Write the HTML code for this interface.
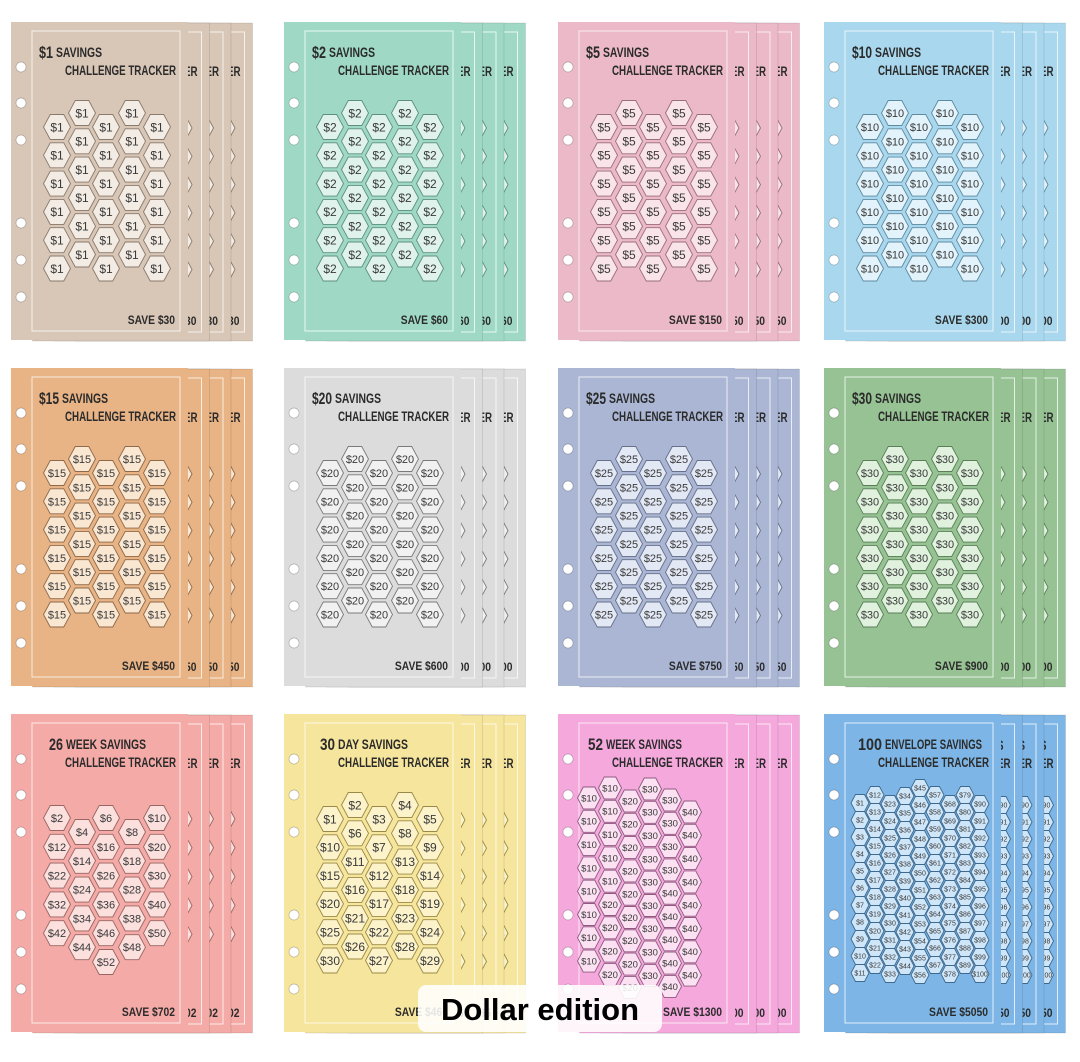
<!DOCTYPE html>
<html><head><meta charset="utf-8"><style>
html,body{margin:0;padding:0;background:#fff;width:1080px;height:1062px;overflow:hidden}
svg{display:block}
</style></head><body>
<svg id="s" width="1080" height="1062" xmlns="http://www.w3.org/2000/svg"></svg>
<script>
const COLX=[11,284,558,824], ROWY=[22,368,714], W=177, H=318, STEP=21.5;
const cards=[
 {bg:'#d8c6b6',hx:'#f3ece4',st:'#8a7a6c',big:'$1',bw:14,rest:'SAVINGS',rw:46,save:'SAVE $30',lay:'std',v:'$1'},
 {bg:'#9fd9c6',hx:'#dff3ec',st:'#5f8f80',big:'$2',bw:14,rest:'SAVINGS',rw:46,save:'SAVE $60',lay:'std',v:'$2'},
 {bg:'#ebb9c8',hx:'#f9e4ea',st:'#9a6f7c',big:'$5',bw:14,rest:'SAVINGS',rw:46,save:'SAVE $150',lay:'std',v:'$5'},
 {bg:'#a9d8ee',hx:'#e2f3fb',st:'#5f8aa0',big:'$10',bw:20,rest:'SAVINGS',rw:46,save:'SAVE $300',lay:'std',v:'$10'},
 {bg:'#e8b385',hx:'#fae7d2',st:'#8f6a4a',big:'$15',bw:20,rest:'SAVINGS',rw:46,save:'SAVE $450',lay:'std',v:'$15'},
 {bg:'#dcdcdc',hx:'#f1f1f1',st:'#7a7a7a',big:'$20',bw:20,rest:'SAVINGS',rw:46,save:'SAVE $600',lay:'std',v:'$20'},
 {bg:'#aab6d3',hx:'#e3e8f5',st:'#66708a',big:'$25',bw:20,rest:'SAVINGS',rw:46,save:'SAVE $750',lay:'std',v:'$25'},
 {bg:'#97c394',hx:'#e0f2de',st:'#5a7f57',big:'$30',bw:20,rest:'SAVINGS',rw:46,save:'SAVE $900',lay:'std',v:'$30'},
 {bg:'#f4aaa6',hx:'#fbe0de',st:'#9a6663',big:'26',bw:14,rest:'WEEK SAVINGS',rw:80,save:'SAVE $702',lay:'w26',tx:38},
 {bg:'#f6e59c',hx:'#fcf3cb',st:'#9a8a45',big:'30',bw:15,rest:'DAY SAVINGS',rw:70,save:'SAVE $465',lay:'d30',tx:36},
 {bg:'#f4a8dc',hx:'#fbe1f2',st:'#8f5a80',big:'52',bw:15,rest:'WEEK SAVINGS',rw:76,save:'SAVE $1300',lay:'w52',tx:30},
 {bg:'#7db6e6',hx:'#cfe6f8',st:'#3e6a90',big:'100',bw:24,rest:'ENVELOPE SAVINGS',rw:97,save:'SAVE $5050',lay:'e100',tx:34}
];
function layout(c){
  const out=[];
  if(c.lay==='std'||c.lay==='d30'){
    const xs=[46,71,95,121,146], ys=[105,91,105,91,105];
    const d30=[[1,10,15,20,25,30],[2,6,11,16,21,26],[3,7,12,17,22,27],[4,8,13,18,23,28],[5,9,14,19,24,29]];
    for(let i=0;i<5;i++)for(let k=0;k<6;k++)
      out.push({x:xs[i],y:ys[i]+k*28.3,t:c.lay==='std'?c.v:'$'+d30[i][k],rw:13.5,rh:12.5,f:c.v&&c.v.length>2?11:12});
  } else if(c.lay==='w26'){
    const xs=[46,71,95,121,146], ys=[104,118,104,118,104], n=[5,5,6,5,5];
    for(let i=0;i<5;i++)for(let k=0;k<n[i];k++){
      let v=2+2*i+10*k; if(i==2&&k==5)v=52;
      out.push({x:xs[i],y:ys[i]+k*28.8,t:'$'+v,rw:13.5,rh:12.5,f:11});}
  } else if(c.lay==='w52'){
    const xs=[31,52,72,92,112,132], ys=[84,74,87,75,86,98], n=[8,9,9,9,9,8];
    const L=[[10,10,10,10,10,10,10,10],[10,10,10,10,10,20,20,20,20],[20,20,20,20,20,20,20,20,20],[30,30,30,30,30,30,30,30,30],[30,30,30,30,40,40,40,40,40],[40,40,40,40,40,40,40,40]];
    for(let i=0;i<6;i++)for(let k=0;k<n[i];k++)
      out.push({x:xs[i],y:ys[i]+k*23.3,t:'$'+L[i][k],rw:11.5,rh:11,f:9.5});
  } else {
    const ys=[89,81,90,82,74,81,90,81,90]; let v=1;
    for(let i=0;i<9;i++){const n=i==4?12:11;for(let k=0;k<n;k++)
      out.push({x:36+15*i,y:ys[i]+k*17,t:'$'+(v++),rw:9,rh:8.5,f:7});}
  }
  return out;
}
function hex(x,y,rw,rh){const a=rw/2;
  return `${x-rw},${y} ${x-a},${y-rh} ${x+a},${y-rh} ${x+rw},${y} ${x+a},${y+rh} ${x-a},${y+rh}`;}
const TF="font-family=\"'Liberation Sans',sans-serif\" font-weight=\"bold\" fill=\"#2b2b2b\" lengthAdjust=\"spacingAndGlyphs\"";
function card(c,X,Y,back){
  let s=`<rect x="${X}" y="${Y}" width="${W}" height="${H}" fill="${c.bg}" ${back?'stroke="rgba(0,0,0,0.12)" stroke-width="0.8"':''}/>`;
  s+=`<rect x="${X+21}" y="${Y+9}" width="${W-29}" height="${H-18}" fill="none" stroke="rgba(255,255,255,0.75)" stroke-width="1"/>`;
  if(!back){for(const hy of [45,81,118,201,238,275]) s+=`<circle cx="${X+10}" cy="${Y+hy}" r="5" fill="#fff" stroke="rgba(0,0,0,0.25)" stroke-width="0.7"/>`;}
  const tx=X+(c.tx||28);
  s+=`<text x="${tx}" y="${Y+36}" font-size="17" textLength="${c.bw}" ${TF}>${c.big}</text>`;
  s+=`<text x="${tx+c.bw+3}" y="${Y+35}" font-size="13.5" textLength="${c.rw}" ${TF}>${c.rest}</text>`;
  s+=`<text x="${X+54}" y="${Y+53}" font-size="13.5" textLength="111" ${TF}>CHALLENGE TRACKER</text>`;
  for(const h of layout(c)){
    s+=`<polygon points="${hex(X+h.x,Y+h.y,h.rw,h.rh)}" fill="${c.hx}" stroke="${c.st}" stroke-width="0.9"/>`;
    s+=`<text x="${X+h.x}" y="${Y+h.y+h.f*0.36}" text-anchor="middle" font-family="'Liberation Sans',sans-serif" font-size="${h.f}" fill="#3a3a3a">${h.t}</text>`;
  }
  const sl=c.save.length*5.9;
  s+=`<text x="${X+164-sl}" y="${Y+302}" font-size="11.5" textLength="${sl}" ${TF}>${c.save}</text>`;
  return s;
}
let out='';
cards.forEach((c,i)=>{
  const X=COLX[i%4], Y=ROWY[Math.floor(i/4)];
  for(let b=3;b>=1;b--) out+=card(c,X+b*STEP,Y+1,true);
  out+=card(c,X,Y,false);
});
out+=`<rect x="418" y="985" width="244" height="47" rx="8" fill="rgba(255,255,255,0.88)"/>`;
out+=`<text x="540" y="1020" text-anchor="middle" font-family="'Liberation Sans',sans-serif" font-size="31" font-weight="bold" fill="#000">Dollar edition</text>`;
document.getElementById('s').innerHTML=out;
</script>
</body></html>
